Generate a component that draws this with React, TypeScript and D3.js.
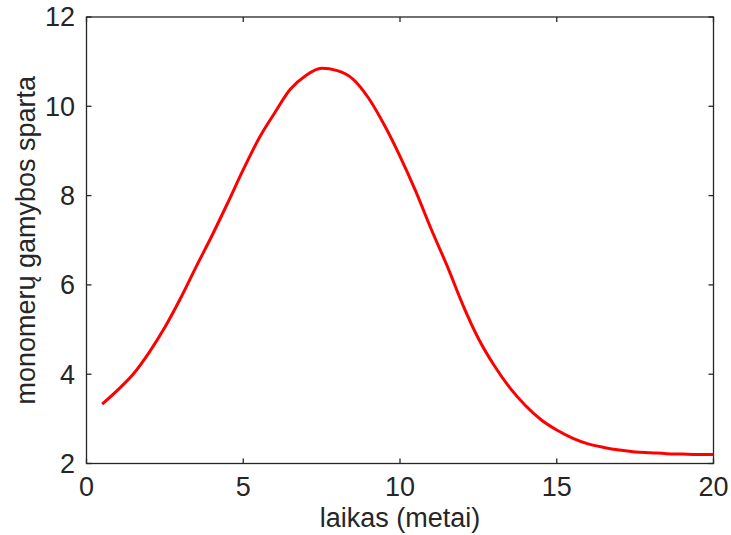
import React from "react";
import * as d3 from "d3";

const timeValues = [0.5, 1, 1.5, 2, 2.5, 3, 3.5, 4, 4.5, 5, 5.5, 6, 6.5, 7, 7.5, 8, 8.5, 9, 9.5, 10, 10.5, 11, 11.5, 12, 12.5, 13, 13.5, 14, 14.5, 15, 15.5, 16, 16.5, 17, 17.5, 18, 18.5, 19, 19.5, 20];
const rateValues = [3.33, 3.65, 4.01, 4.49, 5.05, 5.70, 6.41, 7.10, 7.83, 8.58, 9.28, 9.85, 10.38, 10.69, 10.85, 10.80, 10.61, 10.18, 9.58, 8.88, 8.10, 7.24, 6.43, 5.56, 4.80, 4.20, 3.70, 3.30, 2.98, 2.75, 2.57, 2.44, 2.36, 2.30, 2.26, 2.24, 2.22, 2.21, 2.20, 2.20];
const xTicks = [0, 5, 10, 15, 20];
const yTicks = [2, 4, 6, 8, 10, 12];
const xLabel = "laikas (metai)";
const yLabel = "monomerų gamybos sparta";

export default function App() {
  const W = 731, H = 535;
  const left = 86.5, right = 713.5, top = 17, bottom = 463.5;
  const x = d3.scaleLinear().domain([0, 20]).range([left, right]);
  const y = d3.scaleLinear().domain([2, 12]).range([bottom, top]);
  const pts = timeValues.map((t, i) => [t, rateValues[i]] as [number, number]);
  const line = d3.line<[number, number]>().x(d => x(d[0])).y(d => y(d[1])).curve(d3.curveMonotoneX);
  const axisColor = "#262626";
  const font = "'Liberation Sans', Arial, sans-serif";
  const tl = 5;
  const fs = 27;
  return (
    <svg width={W} height={H} style={{ position: "absolute", left: 0, top: 0, background: "#fff" }}>
      <rect x={left} y={top} width={right - left} height={bottom - top} fill="none" stroke={axisColor} strokeWidth={1.3} />
      {xTicks.map(t => (
        <g key={"x" + t}>
          <line x1={x(t)} x2={x(t)} y1={bottom} y2={bottom - tl} stroke={axisColor} strokeWidth={1.3} />
          <line x1={x(t)} x2={x(t)} y1={top} y2={top + tl} stroke={axisColor} strokeWidth={1.3} />
          <text x={x(t)} y={496} textAnchor="middle" fontFamily={font} fontSize={fs} fill={axisColor}>{t}</text>
        </g>
      ))}
      {yTicks.map(t => (
        <g key={"y" + t}>
          <line x1={left} x2={left + tl} y1={y(t)} y2={y(t)} stroke={axisColor} strokeWidth={1.3} />
          <line x1={right} x2={right - tl} y1={y(t)} y2={y(t)} stroke={axisColor} strokeWidth={1.3} />
          <text x={75} y={y(t)} dy="0.35em" textAnchor="end" fontFamily={font} fontSize={fs} fill={axisColor}>{t}</text>
        </g>
      ))}
      <path d={line(pts) || ""} fill="none" stroke="#ff0000" strokeWidth={3} strokeLinejoin="round" />
      <text x={(left + right) / 2} y={527} textAnchor="middle" fontFamily={font} fontSize={fs} fill={axisColor}>{xLabel}</text>
      <text transform={`translate(35,${(top + bottom) / 2}) rotate(-90)`} textAnchor="middle" fontFamily={font} fontSize={fs} fill={axisColor}>{yLabel}</text>
    </svg>
  );
}
